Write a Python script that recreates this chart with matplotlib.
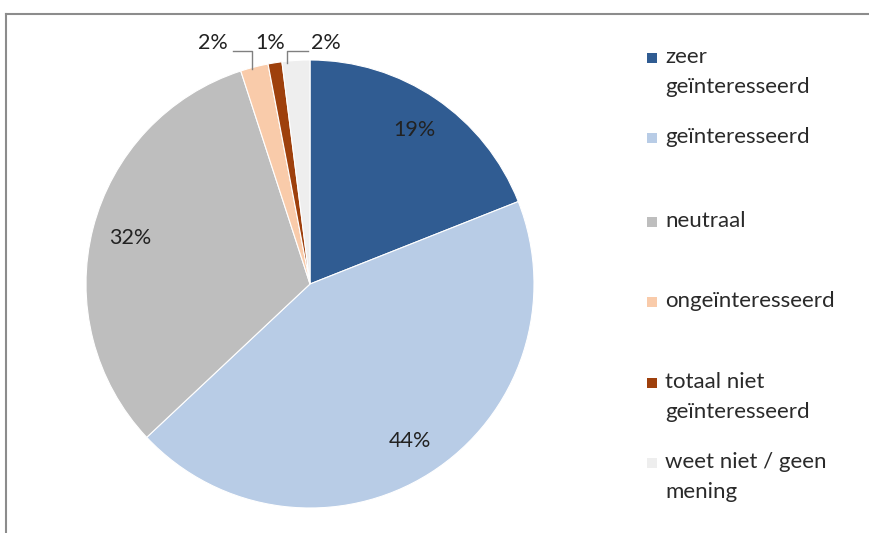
import numpy as np
import matplotlib.pyplot as plt
from matplotlib.lines import Line2D
from matplotlib.patches import Rectangle

plt.rcParams['font.family'] = ['Lato', 'DejaVu Sans']

labels = ['zeer\ngeïnteresseerd', 'geïnteresseerd', 'neutraal',
          'ongeïnteresseerd', 'totaal niet\ngeïnteresseerd', 'weet niet / geen\nmening']
values = [19, 44, 32, 2, 1, 2]
colors = ['#305C92', '#B8CCE6', '#BEBEBE', '#F9CBAA', '#9E400C', '#EEEEEE']

W, H = 869, 533
fig = plt.figure(figsize=(W / 100, H / 100), dpi=100)

# pie centre (310, 284) px, radius 224 px
cx, cy, r = 310, 284, 224
ax = fig.add_axes([(cx - r) / W, (H - cy - r) / H, 2 * r / W, 2 * r / H])
wedges, _ = ax.pie(values, colors=colors, startangle=90, counterclock=False,
                   radius=1, wedgeprops=dict(edgecolor='white', linewidth=0.8))
ax.set_xlim(-1, 1)
ax.set_ylim(-1, 1)
ax.set_aspect('equal')
ax.axis('off')

txt_color = '#222222'
# label x positions for the small slices (outside, above the pie)
outside_x = {3: -0.435, 4: -0.18, 5: 0.07}
for i, w in enumerate(wedges):
    mid = np.deg2rad((w.theta1 + w.theta2) / 2)
    pct = f'{values[i]}%'
    if i in outside_x:
        lx, ly = outside_x[i], 1.075
        ax.text(lx, ly, pct, ha='center', va='center', fontsize=15.5,
                color=txt_color, clip_on=False)
        ex, ey = 1.0 * np.cos(mid), 1.0 * np.sin(mid)
        if i == 3:
            ax.plot([lx + 0.09, ex - 0.01, ex - 0.01], [ly - 0.035, ly - 0.035, ey - 0.01],
                    color='#808080', lw=1, clip_on=False)
        elif i == 5:
            ax.plot([ex - 0.04, ex - 0.04, lx - 0.08], [ey - 0.01, ly - 0.035, ly - 0.035],
                    color='#808080', lw=1, clip_on=False)
    else:
        ax.text(0.83 * np.cos(mid), 0.83 * np.sin(mid), pct, ha='center', va='center',
                fontsize=15.5, color=txt_color)

# legend drawn by hand to keep Excel's uneven spacing
legend_y = [58, 138, 222, 302, 383, 463]
for i, lab in enumerate(labels):
    y = legend_y[i]
    fig.add_artist(Rectangle((647 / W, 1 - (y + 5) / H), 10 / W, 10 / H,
                             transform=fig.transFigure, facecolor=colors[i],
                             edgecolor='none'))
    fig.text(665 / W, 1 - (y - 11) / H, lab, ha='left', va='top', fontsize=16,
             color='#2a2a2a', linespacing=1.64)

# chart frame
frame = '#8C8C8C'
fig.add_artist(Line2D([6 / W, 1], [1 - 14 / H, 1 - 14 / H], transform=fig.transFigure,
                      color=frame, lw=1.5))
fig.add_artist(Line2D([6 / W, 6 / W], [0, 1 - 14 / H], transform=fig.transFigure,
                      color=frame, lw=1.5))

fig.savefig('out.png', dpi=100)
